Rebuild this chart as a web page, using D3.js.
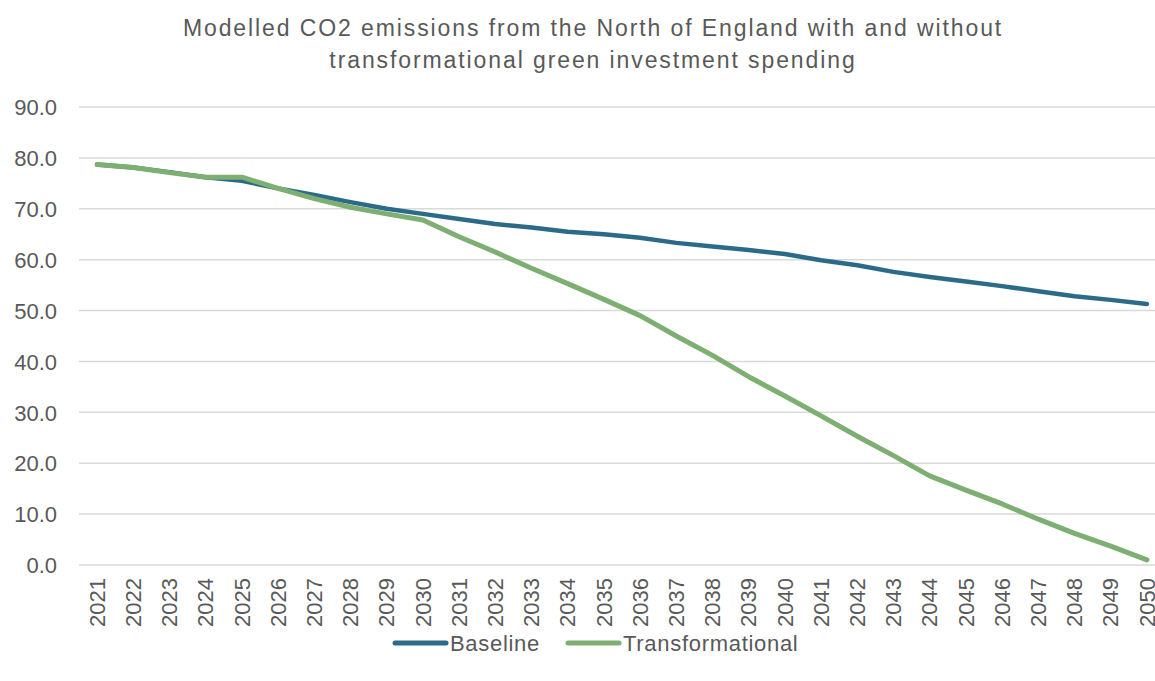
<!DOCTYPE html>
<html>
<head>
<meta charset="utf-8">
<script src="https://cdn.jsdelivr.net/npm/d3@7"></script>
<style>
  body { margin: 0; background: #fff; }
  text { font-family: "Liberation Sans", Arial, sans-serif; fill: #595959; }
</style>
</head>
<body>
<div id="chart"></div>
<script>
var years = ["2021","2022","2023","2024","2025","2026","2027","2028","2029","2030",
             "2031","2032","2033","2034","2035","2036","2037","2038","2039","2040",
             "2041","2042","2043","2044","2045","2046","2047","2048","2049","2050"];

var baseline = [78.7,78.1,77.2,76.2,75.5,74.0,72.7,71.3,70.0,69.0,
                68.0,67.0,66.3,65.5,65.0,64.3,63.3,62.6,61.9,61.1,
                59.9,58.9,57.6,56.6,55.7,54.8,53.8,52.8,52.1,51.3];

var transformational = [78.7,78.1,77.1,76.2,76.2,74.0,72.0,70.3,69.0,67.8,
                        64.5,61.5,58.3,55.3,52.2,49.0,45.0,41.2,37.0,33.2,
                        29.3,25.3,21.5,17.5,14.7,12.0,9.0,6.2,3.7,1.0];

var yTicks = [0,10,20,30,40,50,60,70,80,90];
var seriesNames = ["Baseline","Transformational"];
var colors = {Baseline:"#2b6b89", Transformational:"#7daf72"};

var width = 1155, height = 681;
var plotLeft = 79, plotRight = 1165, plotTop = 107, plotBottom = 565;

var svg = d3.select("#chart").append("svg")
    .attr("width", width)
    .attr("height", height);

var titleLines = ["Modelled CO2 emissions from the North of England with and without",
                  "transformational green investment spending"];
svg.selectAll(".title")
    .data(titleLines)
    .enter().append("text")
    .attr("class", "title")
    .attr("x", 593)
    .attr("y", function(d, i){ return 36 + i * 32; })
    .attr("text-anchor", "middle")
    .style("font-size", "23px")
    .style("letter-spacing", "1.9px")
    .text(function(d){ return d; });

var x = d3.scaleBand().domain(years).range([plotLeft, plotRight]);
var y = d3.scaleLinear().domain([0, 90]).range([plotBottom, plotTop]);

// gridlines
svg.append("g").selectAll("line")
    .data(yTicks)
    .enter().append("line")
    .attr("x1", plotLeft).attr("x2", plotRight)
    .attr("y1", function(d){ return y(d); })
    .attr("y2", function(d){ return y(d); })
    .attr("stroke", "#d9d9d9")
    .attr("stroke-width", 1.5);

// y axis labels
var yAxis = d3.axisLeft(y).tickValues(yTicks).tickFormat(d3.format(".1f")).tickSize(0).tickPadding(0);
var gy = svg.append("g").attr("transform", "translate(57,0)").call(yAxis);
gy.select(".domain").remove();
gy.selectAll("text")
    .style("font-size", "22px")
    .style("font-family", "Liberation Sans, Arial, sans-serif")
    .attr("fill", "#595959")
    .attr("dy", "0.35em");

// x axis labels, rotated
var xAxis = d3.axisBottom(x).tickSize(0).tickPadding(0);
var gx = svg.append("g").attr("transform", "translate(0," + plotBottom + ")").call(xAxis);
gx.select(".domain").remove();
gx.selectAll("text")
    .style("font-size", "22px")
    .style("font-family", "Liberation Sans, Arial, sans-serif")
    .attr("fill", "#595959")
    .attr("text-anchor", "end")
    .attr("transform", "rotate(-90)")
    .attr("x", -13)
    .attr("y", 0)
    .attr("dy", "0.35em");

var line = d3.line()
    .x(function(d, i){ return x(years[i]) + x.bandwidth() / 2; })
    .y(function(d){ return y(d); });

svg.append("path")
    .datum(baseline)
    .attr("fill", "none")
    .attr("stroke", colors.Baseline)
    .attr("stroke-width", 4.5)
    .attr("stroke-linecap", "round")
    .attr("stroke-linejoin", "round")
    .attr("d", line);

svg.append("path")
    .datum(transformational)
    .attr("fill", "none")
    .attr("stroke", colors.Transformational)
    .attr("stroke-width", 5)
    .attr("stroke-linecap", "round")
    .attr("stroke-linejoin", "round")
    .attr("d", line);

// legend
var legendX = [393, 566];
var legend = svg.selectAll(".legend")
    .data(seriesNames)
    .enter().append("g")
    .attr("class", "legend")
    .attr("transform", function(d, i){ return "translate(" + legendX[i] + ",643)"; });

legend.append("line")
    .attr("x1", 2).attr("x2", 53)
    .attr("y1", 0).attr("y2", 0)
    .attr("stroke", function(d){ return colors[d]; })
    .attr("stroke-width", 5)
    .attr("stroke-linecap", "round");

legend.append("text")
    .attr("x", 57)
    .attr("y", 0)
    .attr("dy", "0.35em")
    .style("font-size", "22px")
    .style("letter-spacing", "0.7px")
    .text(function(d){ return d; });
</script>
</body>
</html>
